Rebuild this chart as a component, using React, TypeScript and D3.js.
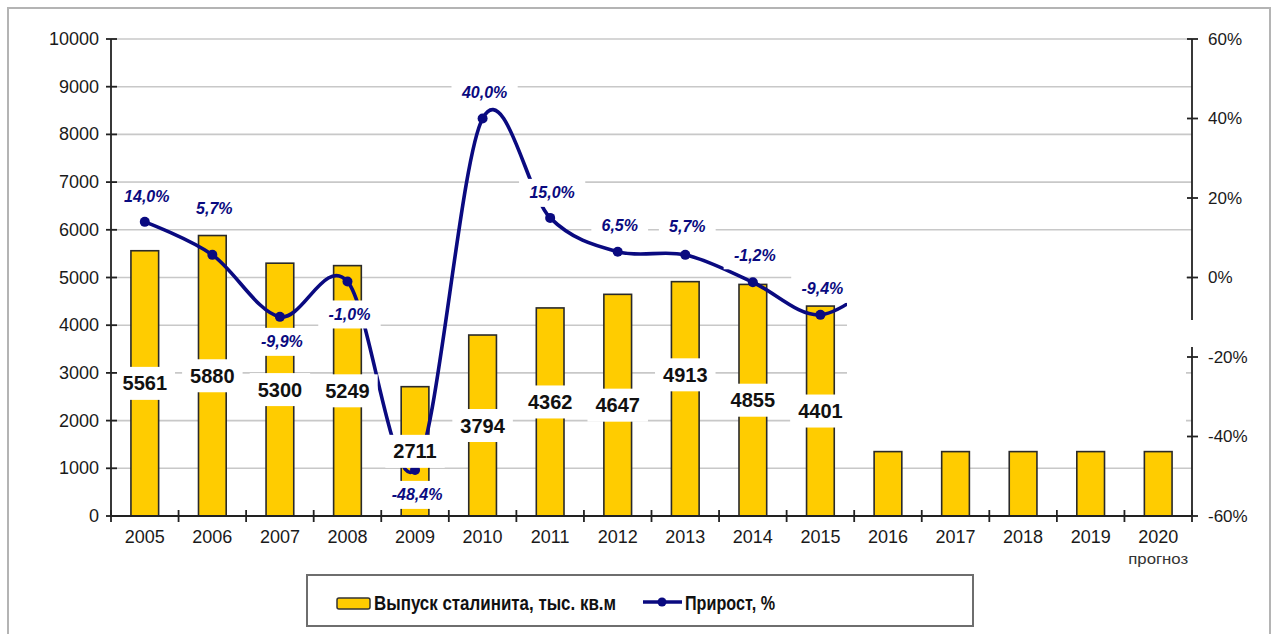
import React from 'react';
import * as d3 from 'd3';

// ---------- data ----------
const years = ['2005', '2006', '2007', '2008', '2009', '2010', '2011', '2012', '2013', '2014', '2015', '2016', '2017', '2018', '2019', '2020'];
const output = [5561, 5880, 5300, 5249, 2711, 3794, 4362, 4647, 4913, 4855, 4401, 1350, 1350, 1350, 1350, 1350];
const outputLabels = ['5561', '5880', '5300', '5249', '2711', '3794', '4362', '4647', '4913', '4855', '4401'];
// growth, %; the 2016 point is hidden behind a white box in the original (only its first stretch of curve shows)
const growth = [14.0, 5.7, -9.9, -1.0, -48.4, 40.0, 15.0, 6.5, 5.7, -1.2, -9.4, 1.0];
const growthLabels = ['14,0%', '5,7%', '-9,9%', '-1,0%', '-48,4%', '40,0%', '15,0%', '6,5%', '5,7%', '-1,2%', '-9,4%'];
const leftTicks = [0, 1000, 2000, 3000, 4000, 5000, 6000, 7000, 8000, 9000, 10000];
const rightTicks = [60, 40, 20, 0, -20, -40, -60];
const rightTickLabels = ['60%', '40%', '20%', '0%', '-20%', '-40%', '-60%'];
const legendBar = 'Выпуск сталинита, тыс. кв.м';
const legendLine = 'Прирост, %';
const forecastNote = 'прогноз';

// manual label nudges (px) as placed in the original
const barLabelNudge = [0, 0, 0, 0, 0, 0, -10, 0, -24, 0, 0];
const pctLabelDy = [-25, -46, 25, 33, 25, -26, -25, -26, -28, -27, -26];

const W = 1274;
const H = 634;
const FONT = '"Liberation Sans", Arial, sans-serif';
const NAVY = '#0a0a80';
const GOLD = '#FFCC00';

const plot = { left: 111, right: 1192, top: 39, bottom: 516 };

let ctx: CanvasRenderingContext2D | null = null;
function measure(text: string, font: string): number {
  if (!ctx) ctx = document.createElement('canvas').getContext('2d');
  if (!ctx) return text.length * 9;
  ctx.font = font;
  return ctx.measureText(text).width;
}

export default function App() {
  const x = d3
    .scaleBand<string>()
    .domain(years)
    .range([plot.left, plot.right])
    .paddingInner(0.59)
    .paddingOuter(0.295);
  const step = x.step();
  const cx = (i: number) => (x(years[i]) as number) + x.bandwidth() / 2;
  const y = d3.scaleLinear().domain([0, 10000]).range([plot.bottom, plot.top]);
  const y2 = d3.scaleLinear().domain([-60, 60]).range([plot.bottom, plot.top]);

  const line = d3
    .line<number>()
    .x((_, i) => cx(i))
    .y((d) => y2(d))
    .curve(d3.curveCardinal.tension(0));

  const barFont = `bold 20px ${FONT}`;
  const pctFont = `italic bold 17px ${FONT}`;

  const boundaries = d3.range(years.length + 1).map((i) => plot.left + i * step);

  return (
    <svg
      width={W}
      height={H}
      style={{ position: 'absolute', left: 0, top: 0, background: '#fff' }}
      fontFamily={FONT}
    >
      {/* outer chart border */}
      <rect x={8} y={8} width={1262} height={660} fill="#fff" stroke="#b4b4b4" strokeWidth={2} />

      {/* gridlines */}
      {leftTicks.map((t) => (
        <line key={'g' + t} x1={plot.left} x2={plot.right} y1={y(t)} y2={y(t)} stroke="#c8c8c8" strokeWidth={1.6} />
      ))}

      {/* bars */}
      {output.map((v, i) => (
        <rect
          key={'b' + i}
          x={x(years[i])}
          y={y(v)}
          width={x.bandwidth()}
          height={plot.bottom - y(v)}
          fill={GOLD}
          stroke="#2a2a2a"
          strokeWidth={1.6}
        />
      ))}

      {/* growth line */}
      <path d={line(growth) || ''} fill="none" stroke={NAVY} strokeWidth={3.6} strokeLinejoin="round" />
      {growth.map((v, i) => (
        <circle key={'m' + i} cx={cx(i)} cy={y2(v)} r={5} fill={NAVY} />
      ))}

      {/* white box covering the right part of the plot (as in the original) */}
      <rect x={847} y={238} width={339} height={209} fill="#fff" />

      {/* bar value labels */}
      {outputLabels.map((lab, i) => {
        const w = measure(lab, barFont) + 16;
        const yc = y(output[i] / 2) + barLabelNudge[i];
        return (
          <g key={'bl' + i}>
            <rect x={cx(i) - w / 2} y={yc - 16.5} width={w} height={33} fill="#fff" />
            <text
              x={cx(i)}
              y={yc}
              textAnchor="middle"
              dominantBaseline="central"
              fontSize={20}
              fontWeight="bold"
              fill="#111"
            >
              {lab}
            </text>
          </g>
        );
      })}

      {/* growth labels */}
      {growthLabels.map((lab, i) => {
        const w = measure(lab, pctFont) + 18;
        const xc = cx(i) + 2;
        const yc = y2(growth[i]) + pctLabelDy[i];
        return (
          <g key={'pl' + i}>
            <rect x={xc - w / 2} y={yc - 14} width={w} height={28} fill="#fff" />
            <text
              x={xc}
              y={yc}
              textAnchor="middle"
              dominantBaseline="central"
              fontSize={16}
              fontStyle="italic"
              fontWeight="bold"
              fill={NAVY}
            >
              {lab}
            </text>
          </g>
        );
      })}

      {/* left axis */}
      <line x1={plot.left} x2={plot.left} y1={plot.top} y2={plot.bottom} stroke="#222" strokeWidth={1.8} />
      {leftTicks.map((t) => (
        <g key={'lt' + t}>
          <line x1={plot.left - 5} x2={plot.left + 6} y1={y(t)} y2={y(t)} stroke="#222" strokeWidth={1.8} />
          <text x={plot.left - 12} y={y(t)} textAnchor="end" dominantBaseline="central" fontSize={18} fill="#1a1a1a">
            {t}
          </text>
        </g>
      ))}

      {/* right axis */}
      <line x1={plot.right} x2={plot.right} y1={plot.top} y2={plot.bottom} stroke="#222" strokeWidth={1.8} />
      {rightTicks.map((t, i) => (
        <g key={'rt' + t}>
          <line x1={plot.right - 5} x2={plot.right + 6} y1={y2(t)} y2={y2(t)} stroke="#222" strokeWidth={1.8} />
          <text x={plot.right + 16} y={y2(t)} textAnchor="start" dominantBaseline="central" fontSize={17} fill="#1a1a1a">
            {rightTickLabels[i]}
          </text>
        </g>
      ))}
      <rect x={1184} y={320} width={14} height={27} fill="#fff" />

      {/* bottom axis */}
      <line x1={plot.left} x2={plot.right} y1={plot.bottom} y2={plot.bottom} stroke="#222" strokeWidth={1.8} />
      {boundaries.map((bx, i) => (
        <line key={'xt' + i} x1={bx} x2={bx} y1={plot.bottom - 6} y2={plot.bottom + 6} stroke="#222" strokeWidth={1.8} />
      ))}
      {years.map((yr, i) => (
        <text key={'xl' + yr} x={cx(i)} y={537} textAnchor="middle" dominantBaseline="central" fontSize={18} fill="#1a1a1a">
          {yr}
        </text>
      ))}
      <text
        x={cx(years.length - 1)}
        y={559}
        textAnchor="middle"
        dominantBaseline="central"
        fontSize={14}
        fill="#333"
        textLength={60}
        lengthAdjust="spacingAndGlyphs"
      >
        {forecastNote}
      </text>

      {/* legend */}
      <rect x={307} y={575} width={666} height={51} fill="#fff" stroke="#6e6e6e" strokeWidth={2} />
      <rect x={337} y={598} width={33} height={11} rx={2} fill={GOLD} stroke="#333" strokeWidth={1.5} />
      <text
        x={374}
        y={602}
        dominantBaseline="central"
        fontSize={21}
        fontWeight="bold"
        fill="#111"
        textLength={242}
        lengthAdjust="spacingAndGlyphs"
      >
        {legendBar}
      </text>
      <line x1={643} x2={682} y1={602} y2={602} stroke={NAVY} strokeWidth={3.6} />
      <circle cx={662} cy={602} r={4.5} fill={NAVY} />
      <text
        x={685}
        y={602}
        dominantBaseline="central"
        fontSize={21}
        fontWeight="bold"
        fill="#111"
        textLength={90}
        lengthAdjust="spacingAndGlyphs"
      >
        {legendLine}
      </text>
    </svg>
  );
}
